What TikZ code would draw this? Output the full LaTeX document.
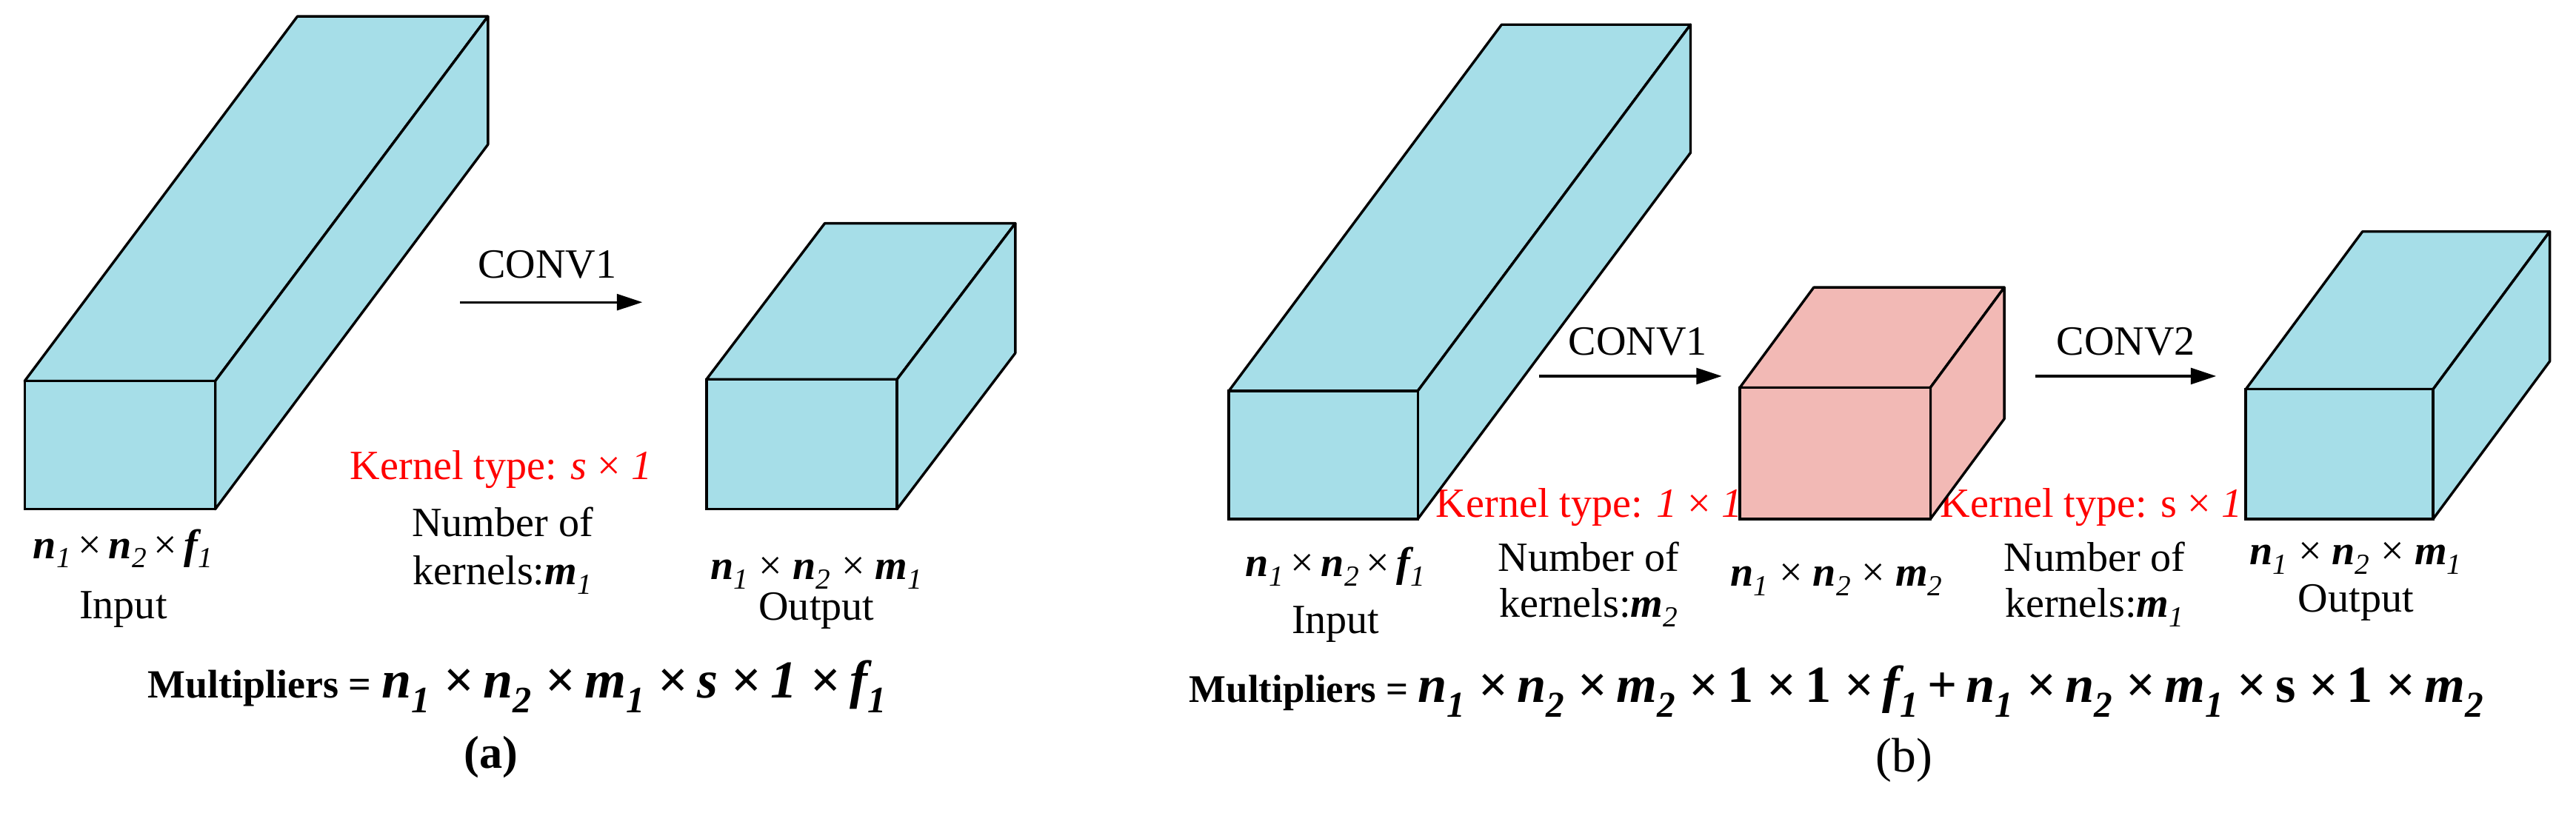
\documentclass[tikz,border=0pt]{standalone}
\usepackage{fontspec}
\setmainfont{Liberation Serif}
\usetikzlibrary{arrows.meta}
\definecolor{cyanbox}{HTML}{A6DEE8}
\definecolor{pinkbox}{HTML}{F2B9B5}
\newcommand{\cubd}[7]{%
  \filldraw[fill=#7,draw=black,line width=2.2pt,line join=round] (#1,#2) -- ++(#5,#6) -- ++(#3-#1,0) -- (#3,#2) -- cycle;
  \filldraw[fill=#7,draw=black,line width=2.2pt,line join=round] (#3,#2) -- ++(#5,#6) -- ++(0,#4-#2) -- (#3,#4) -- cycle;
  \filldraw[fill=#7,draw=black,line width=2.2pt] (#1,#2) rectangle (#3,#4);}
\newcommand{\nv}[2]{{\bfseries\itshape #1}\textsubscript{\itshape #2}}
\tikzset{
  lbl/.style={font=\fontsize{36}{38}\selectfont,inner sep=0pt,align=center},
  red/.style={lbl,text=red},
  arr/.style={-{Triangle[length=22pt,width=14pt]},line width=2pt},
}
\begin{document}
\begin{tikzpicture}[x=0.05cm,y=-0.05cm]
\useasboundingbox (0,0) rectangle (1568,494.6);
% ---------- panel (a)
\cubd{15}{232}{131}{310}{166}{-222}{cyanbox}
\cubd{430}{231}{546}{310}{72}{-95}{cyanbox}
\coordinate (a1) at (280,184); \coordinate (a2) at (391,184);
\draw[arr] (a1) -- (a2);
\node[lbl] (c1) at (333,161) {CONV1};
\node[red] (ka) at (305,286) {Kernel type: \textit{s} × \textit{1}};
\node[lbl] (na) at (306,318) {Number of};
\node[lbl] (kna) at (306,350) {kernels:\nv{m}{1}};
\node[lbl] (ia) at (75,334) {\nv{n}{1}\,×\,\nv{n}{2}\,×\,\nv{f}{1}};
\node[lbl] (ia2) at (75,371) {Input};
\node[lbl] (oa) at (497,349) {\nv{n}{1} × \nv{n}{2} × \nv{m}{1}};
\node[lbl] (oa2) at (497,372) {Output};
\node[inner sep=0pt] (ma) at (315,418) {\resizebox{22.5cm}{!}{\fontsize{36}{38}\selectfont\bfseries Multipliers = {\fontsize{48}{50}\selectfont\nv{n}{1} ×\,\nv{n}{2} ×\,\nv{m}{1} ×\,\textit{s} ×\,\textit{1} ×\,\nv{f}{1}}}};
\node[lbl,font=\fontsize{40}{42}\selectfont\bfseries] (pa) at (299,461) {(a)};
% ---------- panel (b)
\node[red,anchor=west] (kb1) at (874,309) {Kernel type: \textit{1} × \textit{1}};
\node[red,anchor=west] (kb2) at (1181,309) {Kernel type: s × \textit{1}};
\cubd{748}{238}{863}{316}{166}{-223}{cyanbox}
\cubd{1059}{236}{1175}{316}{45}{-61}{pinkbox}
\cubd{1367}{237}{1481}{316}{71}{-96}{cyanbox}
\coordinate (b1) at (937,229); \coordinate (b2) at (1048,229);
\coordinate (b3) at (1239,229); \coordinate (b4) at (1349,229);
\draw[arr] (b1) -- (b2);
\draw[arr] (b3) -- (b4);
\node[lbl] (cb1) at (997,208) {CONV1};
\node[lbl] (cb2) at (1294,208) {CONV2};
\node[lbl] (ib) at (813,345) {\nv{n}{1}\,×\,\nv{n}{2}\,×\,\nv{f}{1}};
\node[lbl] (ib2) at (813,380) {Input};
\node[lbl] (nb1) at (967,339) {Number of};
\node[lbl] (kb1n) at (967,370) {kernels:\nv{m}{2}};
\node[lbl] (pk) at (1118,353) {\nv{n}{1} × \nv{n}{2} × \nv{m}{2}};
\node[lbl] (nb2) at (1275,339) {Number of};
\node[lbl] (kb2n) at (1275,370) {kernels:\nv{m}{1}};
\node[lbl] (ob) at (1434,340) {\nv{n}{1} × \nv{n}{2} × \nv{m}{1}};
\node[lbl] (ob2) at (1434,367) {Output};
\node[inner sep=0pt] (mb) at (1118,421) {\resizebox{39.4cm}{!}{\fontsize{36}{38}\selectfont\bfseries Multipliers = {\fontsize{48}{50}\selectfont\nv{n}{1} ×\,\nv{n}{2} ×\,\nv{m}{2} ×\,1 ×\,1 ×\,\nv{f}{1}\,+\,\nv{n}{1} ×\,\nv{n}{2} ×\,\nv{m}{1} ×\,s ×\,1 ×\,\nv{m}{2}}}};
\node[lbl,font=\fontsize{42}{44}\selectfont] (pb) at (1159,463) {(b)};
\end{tikzpicture}
\end{document}
